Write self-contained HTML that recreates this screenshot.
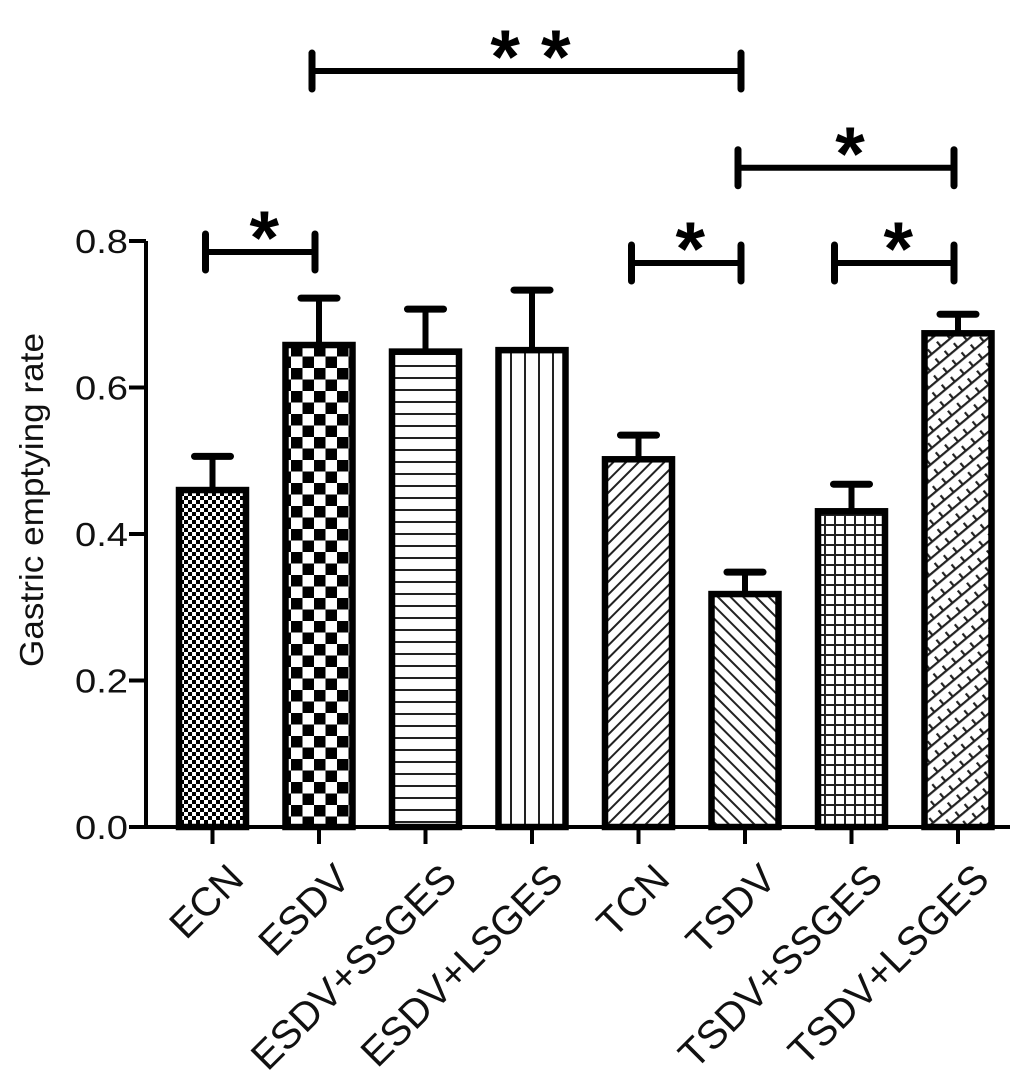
<!DOCTYPE html>
<html><head><meta charset="utf-8"><style>
html,body{margin:0;padding:0;background:#fff;}
svg{display:block;font-family:"Liberation Sans",Arial,sans-serif;}
</style></head><body>
<svg id="chart" width="1026" height="1092" viewBox="0 0 1026 1092">
<defs>
<pattern id="p0" width="8" height="8" patternUnits="userSpaceOnUse"><rect width="8" height="8" fill="#fff"/><rect width="4" height="4" fill="#000"/><rect x="4" y="4" width="4" height="4" fill="#000"/></pattern>
<pattern id="p1" width="23" height="23" patternUnits="userSpaceOnUse" x="176"><rect width="23" height="23" fill="#fff"/><rect width="11.5" height="11.5" fill="#000"/><rect x="11.5" y="11.5" width="11.5" height="11.5" fill="#000"/></pattern>
<pattern id="p2" width="12" height="12" patternUnits="userSpaceOnUse"><rect width="12" height="12" fill="#fff"/><rect y="5" width="12" height="2" fill="#222"/></pattern>
<pattern id="p3" width="14" height="14" patternUnits="userSpaceOnUse"><rect width="14" height="14" fill="#fff"/><rect x="6" width="2" height="14" fill="#222"/></pattern>
<pattern id="p4" width="9" height="9" patternUnits="userSpaceOnUse" patternTransform="rotate(45)"><rect width="9" height="9" fill="#fff"/><rect x="3.5" width="2" height="9" fill="#222"/></pattern>
<pattern id="p5" width="9" height="9" patternUnits="userSpaceOnUse" patternTransform="rotate(-45)"><rect width="9" height="9" fill="#fff"/><rect x="3.5" width="2" height="9" fill="#222"/></pattern>
<pattern id="p6" width="10" height="10" patternUnits="userSpaceOnUse"><rect width="10" height="10" fill="#fff"/><rect x="4" width="2" height="10" fill="#222"/><rect y="4" width="10" height="2" fill="#222"/></pattern>
<pattern id="p7" width="12" height="12" patternUnits="userSpaceOnUse" patternTransform="rotate(-40)"><rect width="12" height="12" fill="#fff"/><rect y="5" width="12" height="2.2" fill="#222"/><rect x="5" y="0" width="2.2" height="6" fill="#222"/></pattern>
</defs>
<g id="plot"></g>
</svg>
<script>
const categories=["ECN","ESDV","ESDV+SSGES","ESDV+LSGES","TCN","TSDV","TSDV+SSGES","TSDV+LSGES"];
const means=[0.46,0.658,0.649,0.651,0.502,0.318,0.431,0.674];
const errors=[0.046,0.064,0.058,0.082,0.033,0.030,0.037,0.026];
const yTicks=[0,0.2,0.4,0.6,0.8];
const yTickLabels=["0.0","0.2","0.4","0.6","0.8"];
const sigPairs=[[0,1],[1,5],[5,7],[4,5],[6,7]];
const sigLabels=["*","* *","*","*","*"];
const sigLevels=[0.785,1.032,0.9,0.77,0.77];

const NS="http://www.w3.org/2000/svg";
const g=document.getElementById('plot');
const X0=146,Y0=827,SC=732.5,BW=73,STEP=106.5,FIRST=212.5;
function yS(v){return Y0-v*SC;}
function xS(i){return FIRST+i*STEP;}
function mk(tag,attrs,parent){const e=document.createElementNS(NS,tag);for(const k in attrs)e.setAttribute(k,attrs[k]);(parent||g).appendChild(e);return e;}

let a=mk('line',{x1:X0,y1:yS(0.8),x2:X0,y2:Y0+1,stroke:'#000','stroke-width':4});


let xa=mk('line',{x1:X0-2,y1:Y0,x2:1010,y2:Y0,stroke:'#000','stroke-width':4});



yTicks.forEach((v,i)=>{
  const t=mk('line',{x1:X0-17,y1:yS(v),x2:X0,y2:yS(v),stroke:'#000','stroke-width':4});
  
  
  const l=mk('text',{x:128,y:yS(v)+12,'font-size':33,'text-anchor':'end',textLength:53,lengthAdjust:'spacingAndGlyphs',fill:'#111'});
  l.textContent=yTickLabels[i];
  
  
});
const yt=mk('text',{x:0,y:0,'font-size':33,'text-anchor':'middle',textLength:334,lengthAdjust:'spacingAndGlyphs',transform:'translate(43,500) rotate(-90)',fill:'#111'});
yt.textContent='Gastric emptying rate';



categories.forEach((c,i)=>{
  const cx=xS(i);
  const tk=mk('line',{x1:cx,y1:Y0,x2:cx,y2:Y0+17,stroke:'#000','stroke-width':4});
  
  
  const top=yS(means[i]+errors[i]);
  const ev=mk('line',{x1:cx,y1:yS(means[i]),x2:cx,y2:top,stroke:'#000','stroke-width':6});
  
  
  const ec=mk('line',{x1:cx-18,y1:top,x2:cx+18,y2:top,stroke:'#000','stroke-width':7,'stroke-linecap':'round'});
  
  
  const b=mk('rect',{x:cx-BW/2+3,y:yS(means[i]),width:BW-6,height:Y0-yS(means[i]),fill:'url(#p'+i+')',stroke:'#000','stroke-width':6.5});
  
  
  const lab=mk('text',{x:0,y:0,'font-size':40,'text-anchor':'end','dominant-baseline':'central',transform:'translate('+(cx+24)+',872) rotate(-45)',fill:'#111'});
  lab.textContent=c;
  
  
});

sigPairs.forEach((p,i)=>{
  const x1=xS(p[0])-7-(i===4?10:0),x2=xS(p[1])-4,y=yS(sigLevels[i]);
  const l=mk('line',{x1:x1,y1:y,x2:x2,y2:y,stroke:'#000','stroke-width':6});
  
  
  [x1,x2].forEach(x=>{
    const c=mk('line',{x1:x,y1:y-18,x2:x,y2:y+18,stroke:'#000','stroke-width':7,'stroke-linecap':'round'});
    
    
  });
  const s=mk('text',{x:(x1+x2)/2+4,y:y-32+0.58*76,'font-size':76,'font-weight':'bold','text-anchor':'middle',fill:'#000'});
  s.textContent=sigLabels[i];
  
  
});
</script>
</body></html>
